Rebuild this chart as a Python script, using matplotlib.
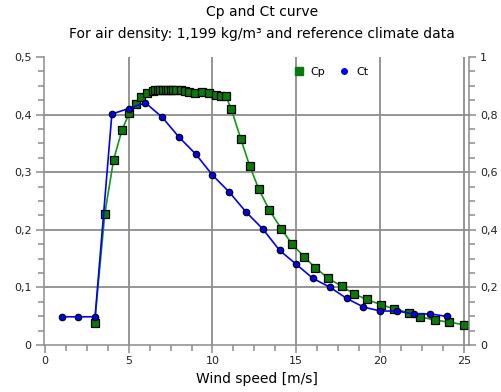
import matplotlib
matplotlib.use("Agg")
import matplotlib.pyplot as plt
from matplotlib.ticker import FuncFormatter, MultipleLocator
from matplotlib.lines import Line2D

cp_wind = [2.97, 3.58, 4.1, 4.6, 5.03, 5.45, 5.76, 6.08, 6.44, 6.6, 6.75, 6.9, 7.05,
           7.2, 7.35, 7.5, 7.65, 7.8, 8.12, 8.35, 8.6, 8.95, 9.35, 9.77, 10.2, 10.5,
           10.8, 11.13, 11.7, 12.22, 12.77, 13.4, 14.1, 14.75, 15.47, 16.14, 16.9,
           17.7, 18.44, 19.19, 20.07, 20.8, 21.7, 22.4, 23.27, 24.1, 25.0]
cp_vals = [0.038, 0.228, 0.321, 0.373, 0.402, 0.419, 0.431, 0.437, 0.441, 0.442,
           0.443, 0.443, 0.443, 0.443, 0.443, 0.443, 0.443, 0.442, 0.442, 0.441,
           0.440, 0.438, 0.439, 0.437, 0.434, 0.433, 0.432, 0.409, 0.357, 0.311,
           0.270, 0.234, 0.202, 0.175, 0.153, 0.134, 0.116, 0.102, 0.089, 0.079,
           0.070, 0.063, 0.056, 0.049, 0.043, 0.040, 0.035]
ct_wind = list(range(1, 25))
ct_vals = [0.098, 0.098, 0.098, 0.802, 0.821, 0.841, 0.791, 0.722, 0.663, 0.590,
           0.531, 0.462, 0.403, 0.329, 0.280, 0.231, 0.201, 0.162, 0.132, 0.118,
           0.118, 0.108, 0.108, 0.099]

title = "Cp and Ct curve"
subtitle = "For air density: 1,199 kg/m³ and reference climate data"
xlabel = "Wind speed [m/s]"

plt.rcParams['font.family'] = ['DejaVu Sans']
GRID = '#8c8c8c'

fig = plt.figure(figsize=(5.02, 3.92), dpi=100)
ax = fig.add_axes([0.0876, 0.1199, 0.8466, 0.7347])
ax2 = ax.twinx()

ax.set_xlim(-0.05, 25.3)
ax.set_ylim(0, 0.5)
ax2.set_ylim(0, 1)

comma = FuncFormatter(lambda v, p: ('%g' % round(v, 3)).replace('.', ','))

ax.plot(cp_wind, cp_vals, color='#119911', lw=1.2, marker='s', markersize=5.6,
        markerfacecolor='#0a7a0a', markeredgecolor='black', markeredgewidth=0.9,
        zorder=3)
ax2.plot(ct_wind, ct_vals, color='#0000ff', lw=1.2, marker='o', markersize=4.6,
         markerfacecolor='#0000ff', markeredgecolor='black', markeredgewidth=0.9,
         zorder=3)

for a in (ax, ax2):
    a.spines['top'].set_visible(False)
    for s in ('left', 'right', 'bottom'):
        a.spines[s].set_color(GRID)
        a.spines[s].set_linewidth(1.1)
ax2.spines['left'].set_visible(False)
ax2.spines['bottom'].set_visible(False)
ax.spines['right'].set_visible(False)

ax.xaxis.set_major_locator(MultipleLocator(5))
ax.xaxis.set_minor_locator(MultipleLocator(1.25))
ax.yaxis.set_major_locator(MultipleLocator(0.1))
ax.yaxis.set_minor_locator(MultipleLocator(0.025))
ax2.yaxis.set_major_locator(MultipleLocator(0.2))
ax2.yaxis.set_minor_locator(MultipleLocator(0.05))
ax.yaxis.set_major_formatter(comma)
ax2.yaxis.set_major_formatter(comma)

ax.tick_params(axis='both', which='major', length=6, width=1.1, color=GRID,
               labelsize=8, labelcolor='#222222', pad=3)
ax.tick_params(axis='both', which='minor', length=4, width=1.1, color=GRID)
ax.tick_params(axis='x', which='major', pad=2)
ax2.tick_params(axis='y', which='major', length=5, width=1.1, color=GRID,
                labelsize=8, labelcolor='#222222', pad=3)
ax2.tick_params(axis='y', which='minor', length=4, width=1.1, color=GRID)

for xv in [5, 10, 15, 20, 25]:
    ax.axvline(xv, color=GRID, lw=1.3, zorder=1)
for yv in [0.1, 0.2, 0.3, 0.4]:
    ax.axhline(yv, color=GRID, lw=1.3, zorder=1)

ax.set_xlabel(xlabel, fontsize=10, labelpad=4)

fig.text(0.522, 0.97, title, ha='center', va='center', fontsize=10)
fig.text(0.522, 0.912, subtitle, ha='center', va='center', fontsize=10)

handles = [Line2D([], [], ls='none', marker='s', markersize=6, color='#0a7a0a'),
           Line2D([], [], ls='none', marker='o', markersize=4, color='#0000ff')]
ax.legend(handles, ['Cp', 'Ct'], ncol=2, frameon=False, fontsize=8,
          loc='upper center', bbox_to_anchor=(0.675, 1.0), handlelength=1.0,
          handletextpad=0.6, columnspacing=1.2)

fig.savefig('out.png', dpi=100)
